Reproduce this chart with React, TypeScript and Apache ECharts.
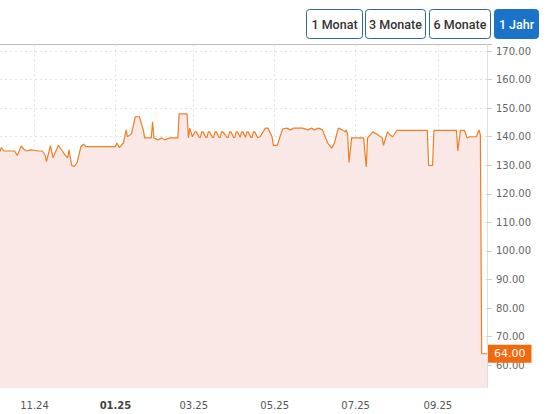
import React, { useEffect, useRef } from "react";
import * as echarts from "echarts";

const dates: string[] = [
  "2024-10-06", "2024-10-07", "2024-10-09", "2024-10-17", "2024-10-19", "2024-10-22", "2024-10-24", "2024-10-26", "2024-10-29",
  "2024-11-04", "2024-11-07", "2024-11-09", "2024-11-10", "2024-11-13", "2024-11-15", "2024-11-18", "2024-11-19", "2024-11-22",
  "2024-11-24", "2024-11-26", "2024-11-27", "2024-11-29", "2024-12-01", "2024-12-03", "2024-12-06", "2024-12-08", "2024-12-10",
  "2025-01-01", "2025-01-02", "2025-01-04", "2025-01-07", "2025-01-09", "2025-01-10", "2025-01-13", "2025-01-16", "2025-01-19",
  "2025-01-22", "2025-01-23", "2025-01-28", "2025-01-29", "2025-01-30", "2025-02-02", "2025-02-05", "2025-02-07", "2025-02-11",
  "2025-02-17", "2025-02-18", "2025-02-24", "2025-02-25", "2025-02-26", "2025-02-28",
  "2025-03-02", "2025-03-03", "2025-03-05", "2025-03-06", "2025-03-07", "2025-03-08", "2025-03-10", "2025-03-11",
  "2025-03-12", "2025-03-13", "2025-03-15", "2025-03-16", "2025-03-17", "2025-03-18", "2025-03-20", "2025-03-21",
  "2025-03-22", "2025-03-23", "2025-03-26", "2025-03-27", "2025-03-28", "2025-03-29", "2025-03-31", "2025-04-01",
  "2025-04-02", "2025-04-03", "2025-04-05", "2025-04-06", "2025-04-07", "2025-04-09", "2025-04-10", "2025-04-11",
  "2025-04-13", "2025-04-14", "2025-04-15", "2025-04-16", "2025-04-18", "2025-04-20",
  "2025-04-24", "2025-04-26", "2025-04-29", "2025-04-30", "2025-05-03", "2025-05-05", "2025-05-07", "2025-05-10", "2025-05-13",
  "2025-05-15", "2025-05-22", "2025-05-26", "2025-05-29", "2025-05-31", "2025-06-03", "2025-06-06", "2025-06-08", "2025-06-10",
  "2025-06-13", "2025-06-15", "2025-06-17", "2025-06-18", "2025-06-21", "2025-06-23", "2025-06-24", "2025-06-25", "2025-06-26",
  "2025-06-28", "2025-07-07", "2025-07-09", "2025-07-10", "2025-07-12", "2025-07-14", "2025-07-18", "2025-07-21", "2025-07-22",
  "2025-07-25", "2025-07-27", "2025-07-29", "2025-08-01", "2025-08-24", "2025-08-25", "2025-08-28", "2025-08-29", "2025-09-15",
  "2025-09-16", "2025-09-18", "2025-09-21", "2025-09-23", "2025-09-25", "2025-09-30", "2025-10-02", "2025-10-03", "2025-10-04",
  "2025-10-08",
];

const prices: number[] = [
  134.8, 136.2, 135.0, 135.0, 133.4, 136.8, 135.6, 135.0, 135.4,
  135.0, 135.0, 133.6, 131.3, 136.9, 132.6, 136.0, 137.0, 135.0,
  133.6, 132.6, 135.4, 130.0, 129.6, 130.8, 136.5, 137.4, 136.5,
  136.5, 137.8, 136.2, 137.8, 142.4, 140.0, 141.0, 147.0, 147.0,
  142.4, 139.6, 139.6, 145.2, 139.6, 138.9, 139.6, 138.9, 139.6,
  139.6, 148.0, 148.0, 139.6, 143.0, 140.0,
  141.7, 141.7, 139.8, 139.8, 141.7, 141.7, 139.8, 139.8,
  141.7, 141.7, 139.8, 139.8, 141.7, 141.7, 139.8, 139.8,
  141.7, 141.7, 139.8, 139.8, 141.7, 141.7, 139.8, 139.8,
  141.7, 141.7, 139.8, 141.7, 141.7, 139.8, 141.7, 141.7,
  139.8, 139.8, 141.7, 141.7, 139.8, 140.0,
  143.0, 143.0, 140.0, 137.0, 137.0, 140.0, 142.7, 143.0, 142.4,
  143.0, 143.0, 142.4, 143.0, 142.4, 143.0, 142.4, 140.0, 137.8,
  136.0, 137.8, 141.3, 143.0, 142.4, 141.7, 142.4, 140.6, 131.0,
  139.6, 139.6, 129.4, 139.6, 140.6, 141.7, 140.6, 139.6, 137.0,
  141.7, 140.6, 140.0, 142.2, 142.2, 130.0, 130.0, 142.2, 142.2,
  135.0, 142.2, 142.2, 139.6, 140.0, 140.0, 142.4, 140.6, 64.0,
  64.0,
];

const xStart = "2024-10-06";
const xEnd = "2025-10-08";
const xTicks: string[] = ["2024-11-01", "2025-01-01", "2025-03-01", "2025-05-01", "2025-07-01", "2025-09-01"];
const yTicks: number[] = [60, 70, 80, 90, 100, 110, 120, 130, 140, 150, 160, 170];
const lastPrice = 64.0;
const buttons: string[] = ["1 Monat", "3 Monate", "6 Monate", "1 Jahr"];

const AXIS_FONT = "DejaVu Sans";
const BTN_FONT = "Roboto";

const ts = (d: string) => Date.parse(d + "T00:00:00Z");

export default function App() {
  const ref = useRef<HTMLDivElement>(null);
  useEffect(() => {
    if (!ref.current) return;
    const chart = echarts.init(ref.current, undefined, { renderer: "svg" });
    const btnBoxes = [
      { x: 306, w: 56 },
      { x: 365, w: 60 },
      { x: 429, w: 61 },
      { x: 494, w: 44 },
    ];
    const graphics: any[] = [
      {
        type: "line",
        shape: { x1: 0, y1: 44.5, x2: 492, y2: 44.5 },
        style: { stroke: "#bdbdbd", lineWidth: 1 },
        silent: true,
      },
    ];
    buttons.forEach((label, i) => {
      const b = btnBoxes[i];
      const active = i === buttons.length - 1;
      graphics.push({
        type: "group",
        children: [
          {
            type: "rect",
            shape: { x: b.x + 0.5, y: 9.5, width: b.w, height: 29, r: 3 },
            style: { fill: active ? "#1a73c9" : "#ffffff", stroke: active ? "#1a73c9" : "#2a6a94", lineWidth: 1 },
          },
          {
            type: "text",
            x: b.x + 0.5 + b.w / 2,
            y: 24,
            style: {
              text: label,
              align: "center",
              verticalAlign: "middle",
              fill: active ? "#ffffff" : "#333333",
              font: `500 12.5px ${BTN_FONT}`,
            },
          },
        ],
      });
    });

    const xTickVals = xTicks.map(ts);

    const option: any = {
      animation: false,
      grid: { left: 0, right: 60, top: 44.5, bottom: 26, containLabel: false },
      xAxis: {
        type: "value",
        min: ts(xStart),
        max: ts(xEnd),
        axisLine: { show: false },
        axisTick: { show: false, customValues: xTickVals },
        axisLabel: {
          customValues: xTickVals,
          color: "#555",
          fontSize: 10,
          fontFamily: AXIS_FONT,
          margin: 12,
          formatter: (v: number) => {
            const d = new Date(v);
            const mm = String(d.getUTCMonth() + 1).padStart(2, "0");
            const yy = String(d.getUTCFullYear() % 100).padStart(2, "0");
            const s = `${mm}.${yy}`;
            return d.getUTCMonth() === 0 ? `{b|${s}}` : s;
          },
          rich: {
            b: { fontWeight: "bold", color: "#444", fontSize: 10, fontFamily: AXIS_FONT },
          },
        },
        splitLine: { show: true, lineStyle: { color: "#e2e2e2", type: [2, 3], width: 1 } },
      },
      yAxis: {
        type: "value",
        position: "right",
        min: 52,
        max: 172.3,
        axisLine: { show: true, lineStyle: { color: "#e0e0e0" } },
        axisTick: { show: true, length: 5, customValues: yTicks, lineStyle: { color: "#d0d0d0" } },
        axisLabel: {
          customValues: yTicks,
          color: "#666",
          fontSize: 10,
          fontFamily: AXIS_FONT,
          margin: 9,
          formatter: (v: number) => v.toFixed(2),
        },
        splitLine: { show: true, lineStyle: { color: "#e2e2e2", type: [2, 3], width: 1 } },
      },
      series: [
        {
          type: "line",
          data: dates.map((d, i) => [ts(d), prices[i]]),
          showSymbol: false,
          symbol: "none",
          lineStyle: { color: "#ef7f26", width: 1.2 },
          areaStyle: { color: "#f9e8e5", opacity: 1 },
          markLine: {
            silent: true,
            symbol: ["none", "none"],
            lineStyle: { width: 0, color: "rgba(0,0,0,0)" },
            data: [{ yAxis: lastPrice }],
            label: {
              show: true,
              position: "end",
              distance: 1,
              formatter: () => lastPrice.toFixed(2),
              backgroundColor: "#f26a0f",
              color: "#ffffff",
              fontSize: 11,
              fontFamily: AXIS_FONT,
              padding: [4, 6, 3, 6],
            },
          },
        },
      ],
      graphic: graphics,
    };
    chart.setOption(option);
    return () => chart.dispose();
  }, []);
  return (
    <div
      ref={ref}
      style={{ position: "absolute", left: 0, top: 0, width: 547, height: 414, background: "#fff" }}
    />
  );
}
